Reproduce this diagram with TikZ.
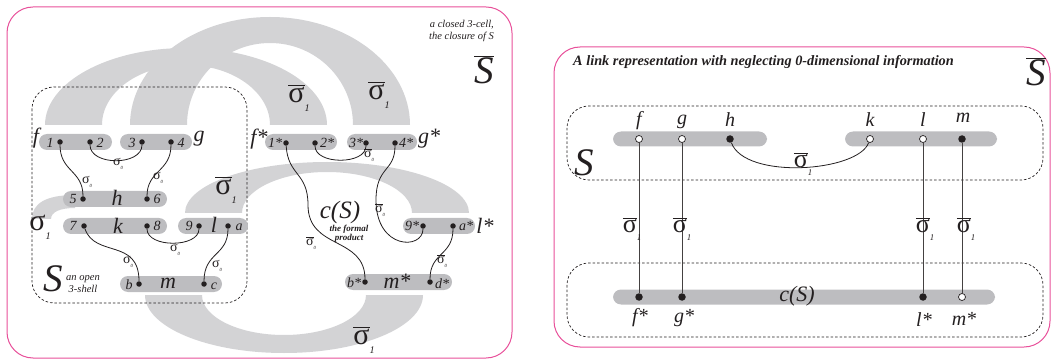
\documentclass[tikz,border=0pt]{standalone}
\usepackage{fontspec}
\setmainfont{Liberation Serif}
\usepackage{graphicx}
\definecolor{bandc}{RGB}{211,211,213}
\definecolor{pillc}{RGB}{189,189,192}
\definecolor{framec}{RGB}{232,80,154}
\definecolor{ink}{RGB}{35,31,32}
\newcommand\sgsub[1]{σ\raisebox{-0.3em}{\scalebox{0.34}{\itshape #1}}}
\newcommand\sgbarsub[1]{$\overline{\hbox{σ}}$\raisebox{-0.3em}{\scalebox{0.34}{\itshape #1}}}
\begin{document}
\begin{tikzpicture}[x=1pt,y=-1pt,
  pill/.style={fill=pillc, rounded corners=8pt, minimum height=16pt, inner sep=0pt, draw=none},
  dot/.style={circle, fill=ink, inner sep=0pt, minimum size=5.5pt},
  odot/.style={circle, draw=ink, fill=white, inner sep=0pt, minimum size=7pt, line width=0.7pt},
  fdot/.style={circle, fill=ink, inner sep=0pt, minimum size=7.5pt},
  lbl/.style={inner sep=0pt, text=ink, font=\fontsize{14}{14}\selectfont\itshape},
  bigl/.style={inner sep=0pt, text=ink, font=\fontsize{22}{22}\selectfont\itshape},
  rlbl/.style={inner sep=0pt, text=ink, font=\fontsize{20}{20}\selectfont\itshape},
  hugel/.style={inner sep=0pt, text=ink, font=\fontsize{39}{39}\selectfont\itshape},
  sg/.style={inner sep=0pt, text=ink, font=\fontsize{14}{14}\selectfont},
  sgbig/.style={inner sep=0pt, text=ink, font=\fontsize{30}{30}\selectfont},
  sgmid/.style={inner sep=0pt, text=ink, font=\fontsize{26}{26}\selectfont},
  smalll/.style={inner sep=0pt, text=ink, font=\fontsize{10.5}{11}\selectfont\itshape},
  link/.style={draw=ink, line width=0.8pt},
  vlink/.style={draw=ink!85, line width=0.8pt},
  dashbox/.style={draw=ink, dash pattern=on 2.5pt off 2pt, line width=0.7pt, rounded corners=22pt},
  framebox/.style={draw=framec, line width=1pt, rounded corners=26pt},
]
\useasboundingbox (0,0) rectangle (1051,363);

% ---------------- left panel ----------------
\draw[framebox] (7,7) rectangle (512,358);

% gray bands
\fill[bandc] (45,125) arc[start angle=180, end angle=0, x radius=141pt, y radius=77pt]
  -- (270,125) arc[start angle=0, end angle=180, x radius=84pt, y radius=60pt] -- cycle;
\fill[bandc] (130,125) arc[start angle=180, end angle=0, x radius=140pt, y radius=108pt]
  -- (353,125) arc[start angle=0, end angle=180, x radius=83pt, y radius=82pt] -- cycle;
\fill[bandc] (185,213) arc[start angle=180, end angle=0, x radius=142pt, y radius=51pt]
  -- (412,213) arc[start angle=0, end angle=180, x radius=85pt, y radius=41pt] -- cycle;
\fill[bandc] (145,295) arc[start angle=180, end angle=360, x radius=139pt, y radius=58pt]
  -- (366,295) arc[start angle=360, end angle=180, x radius=82pt, y radius=40pt] -- cycle;
\fill[bandc] (32,219) .. controls (32,204) and (45,195) .. (75,195) -- (75,208)
  .. controls (60,208) and (51,212) .. (51,219) -- cycle;

% open 3-shell S
\draw[dashbox] (32,87) rectangle (247,303);

% pills
\node[pill, minimum width=73pt] (p12) at (75.5,142) {};
\node[pill, minimum width=72pt] (p34) at (156,142) {};
\node[pill, minimum width=104pt] (ph) at (115,199) {};
\node[pill, minimum width=104pt] (pk) at (115,226) {};
\node[pill, minimum width=70pt] (pl) at (213,226) {};
\node[pill, minimum width=102pt] (pm) at (171,284) {};
\node[pill, minimum width=72pt] (ps12) at (301,142) {};
\node[pill, minimum width=70pt] (ps34) at (382,142) {};
\node[pill, minimum width=72pt] (ps9) at (439,226) {};
\node[pill, minimum width=107pt] (psm) at (398.5,282) {};

% dots
\node[dot] (d1) at (60,142) {};
\node[dot] (d2) at (90,142) {};
\node[dot] (d3) at (142,142) {};
\node[dot] (d4) at (171,142) {};
\node[dot] (d5) at (83,199) {};
\node[dot] (d6) at (147,199) {};
\node[dot] (d7) at (84,226) {};
\node[dot] (d8) at (147,226) {};
\node[dot] (d9) at (199,226) {};
\node[dot] (da) at (228,226) {};
\node[dot] (db) at (139,284) {};
\node[dot] (dc) at (204,284) {};
\node[dot] (s1) at (286,143) {};
\node[dot] (s2) at (315,143) {};
\node[dot] (s3) at (366,143) {};
\node[dot] (s4) at (395,143) {};
\node[dot] (s9) at (423,226) {};
\node[dot] (sa) at (453,226) {};
\node[dot] (sb) at (365,282) {};
\node[dot] (sd) at (430,282) {};

% connectors
\draw[link] (d2) .. controls (90,166) and (142,166) .. (d3);
\draw[link] (d1) .. controls (60,172) and (83,170) .. (d5);
\draw[link] (d4) .. controls (171,172) and (147,170) .. (d6);
\draw[link] (d8) .. controls (147,248) and (199,248) .. (d9);
\draw[link] (d7) .. controls (95,258) and (139,238) .. (db);
\draw[link] (da) .. controls (228,256) and (204,252) .. (dc);
\draw[link] (s2) .. controls (315,165) and (366,165) .. (s3);
\draw[link] (s1) .. controls (288,176) and (308,172) .. (308,205)
  .. controls (308,250) and (365,236) .. (sb);
\draw[link] (s4) .. controls (395,172) and (376,166) .. (376,200)
  .. controls (376,250) and (423,250) .. (s9);
\draw[link] (sa) .. controls (453,256) and (430,252) .. (sd);

% labels in / around pills
\node[bigl] (tf) at (36,138) {f};
\node[bigl] (tg) at (199,139) {g};
\node[lbl] (t1) at (50,143) {1};
\node[lbl] (t2) at (100,143) {2};
\node[lbl] (t3) at (132,143) {3};
\node[lbl] (t4) at (181,143) {4};
\node[lbl] (t5) at (73,199) {5};
\node[bigl] (th) at (117,198) {h};
\node[lbl] (t6) at (157,199) {6};
\node[lbl] (t7) at (73,226) {7};
\node[bigl] (tk) at (118,226) {k};
\node[lbl] (t8) at (157,226) {8};
\node[lbl] (t9) at (189,226) {9};
\node[bigl] (tl) at (214,225) {l};
\node[lbl] (ta) at (239,227) {a};
\node[lbl] (tb) at (129,285) {b};
\node[bigl] (tm) at (168,283) {m};
\node[lbl] (tc) at (214,286) {c};

\node[bigl] (tfs) at (259,139) {f*};
\node[lbl] (t1s) at (275,143) {1*};
\node[lbl] (t2s) at (327,143) {2*};
\node[lbl] (t3s) at (356,143) {3*};
\node[lbl] (t4s) at (406,143) {4*};
\node[bigl] (tgs) at (429,139) {g*};
\node[lbl] (t9s) at (412,226) {9*};
\node[lbl] (tas) at (466,226) {a*};
\node[bigl] (tls) at (485,226) {l*};
\node[lbl] (tbs) at (354,283) {b*};
\node[bigl] (tms) at (397,281) {m*};
\node[lbl] (tds) at (442,284) {d*};

% sigma labels
\node[sg] (q1) at (118,164) {\sgsub{0}};
\node[sg] (q2) at (87,182) {\sgsub{0}};
\node[sg] (q3) at (158,178) {\sgsub{0}};
\node[sg] (q4) at (175,250) {\sgsub{0}};
\node[sg] (q5) at (128,262) {\sgsub{0}};
\node[sg] (q6) at (217,266) {\sgsub{0}};
\node[sg] (q7) at (369,155) {\sgbarsub{0}};
\node[sg] (q8) at (311,243) {\sgbarsub{0}};
\node[sg] (q9) at (380,210) {\sgbarsub{0}};
\node[sg] (q10) at (442,261) {\sgbarsub{0}};
\node[sgbig] (r1) at (40,227) {\sgsub{1}};
\node[sgbig] (r2) at (226,190) {\sgbarsub{1}};
\node[sgbig] (r3) at (299,98) {\sgbarsub{1}};
\node[sgbig] (r4) at (379,95) {\sgbarsub{1}};
\node[sgbig] (r5) at (364,340) {\sgbarsub{1}};

% titles
\node[hugel] (tS) at (53,279) {S};
\node[smalll, align=center] (topen) at (83,284) {an open\\[1pt]3-shell};
\node[inner sep=0pt, text=ink, font=\fontsize{25}{25}\selectfont\itshape] (tcs) at (340,212) {c(S)};
\node[smalll, align=center, font=\fontsize{9}{9.5}\selectfont\itshape\bfseries] (tfp) at (349,234) {the formal\\product};
\node[smalll, align=right, anchor=north east] (tclosed) at (494,20) {a closed 3-cell,\\[1pt]the closure of S};
\node[hugel] (tSbar) at (484,70) {$\overline{\hbox{S}}$};

% ---------------- right panel ----------------
\draw[framebox] (554,47) rectangle (1050,347);
\node[anchor=west, inner sep=0pt, text=ink, font=\fontsize{14.3}{15}\selectfont\bfseries\itshape] (ttitle) at (573,62) {A link representation with neglecting 0-dimensional information};
\node[hugel] (tSbar2) at (1036,72) {$\overline{\hbox{S}}$};

\draw[dashbox] (567,106) rectangle (1043,180);
\draw[dashbox] (567,263) rectangle (1043,337);
\node[hugel] (tS2) at (584,163) {S};

\node[pill, minimum width=154pt, minimum height=15pt] (rp1) at (690,139) {};
\node[pill, minimum width=152pt, minimum height=15pt] (rp2) at (921,139) {};
\node[pill, minimum width=382pt, minimum height=15pt] (rp3) at (804,297) {};

\node[odot] (rf) at (639,139) {};
\node[odot] (rg) at (682,139) {};
\node[fdot] (rh) at (730,139) {};
\node[odot] (rk) at (870,139) {};
\node[odot] (rl) at (923,139) {};
\node[fdot] (rm) at (962,139) {};
\node[fdot] (rfs) at (639,297) {};
\node[fdot] (rgs) at (682,297) {};
\node[fdot] (rls) at (923,297) {};
\node[odot] (rms) at (962,297) {};

\draw[vlink] (rf) -- (rfs);
\draw[vlink] (rg) -- (rgs);
\draw[vlink] (rl) -- (rls);
\draw[vlink] (rm) -- (rms);
\draw[link] (rh) .. controls (745,180) and (858,172) .. (rk);

\node[rlbl] (uf) at (639,121) {f};
\node[rlbl] (ug) at (682,122) {g};
\node[rlbl] (uh) at (730,120) {h};
\node[rlbl] (uk) at (870,120) {k};
\node[rlbl] (ul) at (923,120) {l};
\node[rlbl] (um) at (963,118) {m};
\node[rlbl] (ufs) at (640,318) {f*};
\node[rlbl] (ugs) at (684,318) {g*};
\node[rlbl] (uls) at (924,320) {l*};
\node[rlbl] (ums) at (964,319) {m*};
\node[bigl] (ucs) at (797,296) {c(S)};

\node[sgmid] (w1) at (632,229) {\sgbarsub{1}};
\node[sgmid] (w2) at (682,229) {\sgbarsub{1}};
\node[sgmid] (w3) at (925,229) {\sgbarsub{1}};
\node[sgmid] (w4) at (966,229) {\sgbarsub{1}};
\node[sgmid] (w5) at (803,164) {\sgbarsub{1}};
\end{tikzpicture}
\end{document}
